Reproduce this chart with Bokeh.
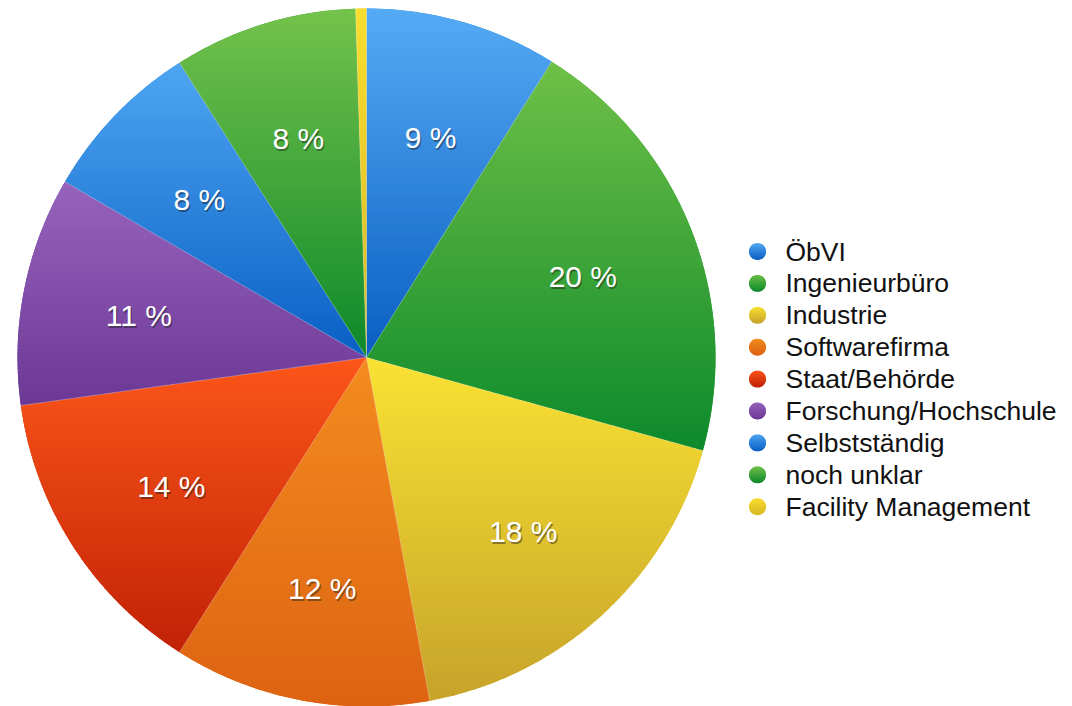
import numpy as np
from bokeh.plotting import figure
from bokeh.core.properties import value
from bokeh.embed import file_html
from bokeh.resources import INLINE

# ---------------- data ----------------
categories = ["ÖbVI", "Ingenieurbüro", "Industrie", "Softwarefirma", "Staat/Behörde",
              "Forschung/Hochschule", "Selbstständig", "noch unklar", "Facility Management"]
shares = [8.9, 20.4, 17.8, 11.9, 13.8, 10.6, 7.6, 8.5, 0.5]
pct_labels = ["9 %", "20 %", "18 %", "12 %", "14 %", "11 %", "8 %", "8 %", ""]
top_colors = ["#56abf5", "#6fc046", "#fae232", "#f38c1e", "#fc5619",
              "#9664bc", "#4ea6f2", "#74c24b", "#f9de2e"]
bottom_colors = ["#0a5ec2", "#0d8a2c", "#c7a32a", "#dd6312", "#c22206",
                 "#6c3896", "#0a5fc4", "#0e892b", "#d8b826"]

# ---------------- helpers ----------------
def hex2rgb(h):
    h = h.lstrip("#")
    return np.array([int(h[i:i + 2], 16) for i in (0, 2, 4)], dtype=float)

def mix(c_top, c_bot, t):
    a, b = hex2rgb(c_top), hex2rgb(c_bot)
    c = a + (b - a) * t
    return "#%02x%02x%02x" % tuple(int(round(v)) for v in c)

def clip(pts, y0, y1):
    def clip_half(poly, keep, inter):
        out = []
        n = len(poly)
        for i in range(n):
            cur, prev = poly[i], poly[i - 1]
            if keep(cur):
                if not keep(prev):
                    out.append(inter(prev, cur))
                out.append(cur)
            elif keep(prev):
                out.append(inter(prev, cur))
        return out

    def at_y(yv):
        def f(p, q):
            t = (yv - p[1]) / (q[1] - p[1])
            return (p[0] + t * (q[0] - p[0]), yv)
        return f

    poly = clip_half(pts, lambda p: p[1] >= y0, at_y(y0))
    if not poly:
        return []
    poly = clip_half(poly, lambda p: p[1] <= y1, at_y(y1))
    return poly

def bands(poly, c_top, c_bot, n, xs, ys, cols):
    yv = [p[1] for p in poly]
    ymin, ymax = min(yv), max(yv)
    h = (ymax - ymin) / n
    for k in range(n):
        y1 = ymax - k * h
        y0 = y1 - h
        part = clip(poly, y0 - 0.6, y1 + 0.6)
        if len(part) < 3:
            continue
        xs.append([p[0] for p in part])
        ys.append([p[1] for p in part])
        cols.append(mix(c_top, c_bot, (k + 0.5) / n))

# ---------------- figure ----------------
W, H = 1072, 706
p = figure(width=W, height=H, x_range=(0, W), y_range=(0, H),
           output_backend="svg", toolbar_location=None, min_border=0,
           x_axis_location=None, y_axis_location=None)
p.grid.visible = False
p.outline_line_color = None
p.background_fill_color = "white"
p.border_fill_color = "white"

cx, cy, R = 366.0, 349.0, 349.0
fr = np.array(shares) / sum(shares)
cum = np.concatenate([[0], np.cumsum(fr)])
starts = np.pi / 2 - 2 * np.pi * cum[:-1]
ends = np.pi / 2 - 2 * np.pi * cum[1:]

mid_colors = [mix(t, b, 0.5) for t, b in zip(top_colors, bottom_colors)]
p.wedge(x=[cx] * len(shares), y=[cy] * len(shares), radius=R,
        start_angle=list(ends), end_angle=list(starts),
        fill_color=mid_colors, line_color=None)

xs, ys, cols = [], [], []
for i in range(len(shares)):
    a0, a1 = starts[i], ends[i]
    m = max(3, int(abs(a0 - a1) / (2 * np.pi) * 720))
    t = np.linspace(a0, a1, m)
    poly = [(cx, cy)] + [(cx + R * np.cos(a), cy + R * np.sin(a)) for a in t]
    bands(poly, top_colors[i], bottom_colors[i], 60, xs, ys, cols)
p.patches(xs=xs, ys=ys, fill_color=cols, line_color=None)

# thin light separators
sx0, sy0, sx1, sy1 = [], [], [], []
for a in starts:
    sx0.append(cx); sy0.append(cy)
    sx1.append(cx + R * np.cos(a)); sy1.append(cy + R * np.sin(a))
p.segment(x0=sx0, y0=sy0, x1=sx1, y1=sy1, line_color="white", line_alpha=0.35, line_width=0.8)

# percentage labels
mids = (starts + ends) / 2
lr = 0.665 * R
lx = [cx + lr * np.cos(a) for a in mids]
ly = [cy + lr * np.sin(a) - 3 for a in mids]
p.text(x=[v + 1.2 for v in lx], y=[v - 2 for v in ly], text=pct_labels,
       text_font=value("Liberation Sans"), text_font_size="30px",
       text_color="#1a1a1a", text_alpha=0.45, text_align="center", text_baseline="middle")
p.text(x=lx, y=ly, text=pct_labels,
       text_font=value("Liberation Sans"), text_font_size="30px",
       text_color="white", text_align="center", text_baseline="middle")

# legend
lgx, lgy0, step, lrad = 757.0, 706.0 - 251.0, 31.9, 8.5
lxs, lys, lcols = [], [], []
for i in range(len(categories)):
    yc = lgy0 - i * step
    t = np.linspace(0, 2 * np.pi, 60, endpoint=False)
    circ = [(lgx + lrad * np.cos(a), yc + lrad * np.sin(a)) for a in t]
    bands(circ, top_colors[i], bottom_colors[i], 10, lxs, lys, lcols)
p.patches(xs=lxs, ys=lys, fill_color=lcols, line_color=None)
p.text(x=[785] * len(categories), y=[lgy0 - i * step for i in range(len(categories))],
       text=categories, text_font=value("Liberation Sans"), text_font_size="26.5px",
       text_color="#111111", text_align="left", text_baseline="middle")

open("out.html", "w").write(file_html(p, INLINE))
